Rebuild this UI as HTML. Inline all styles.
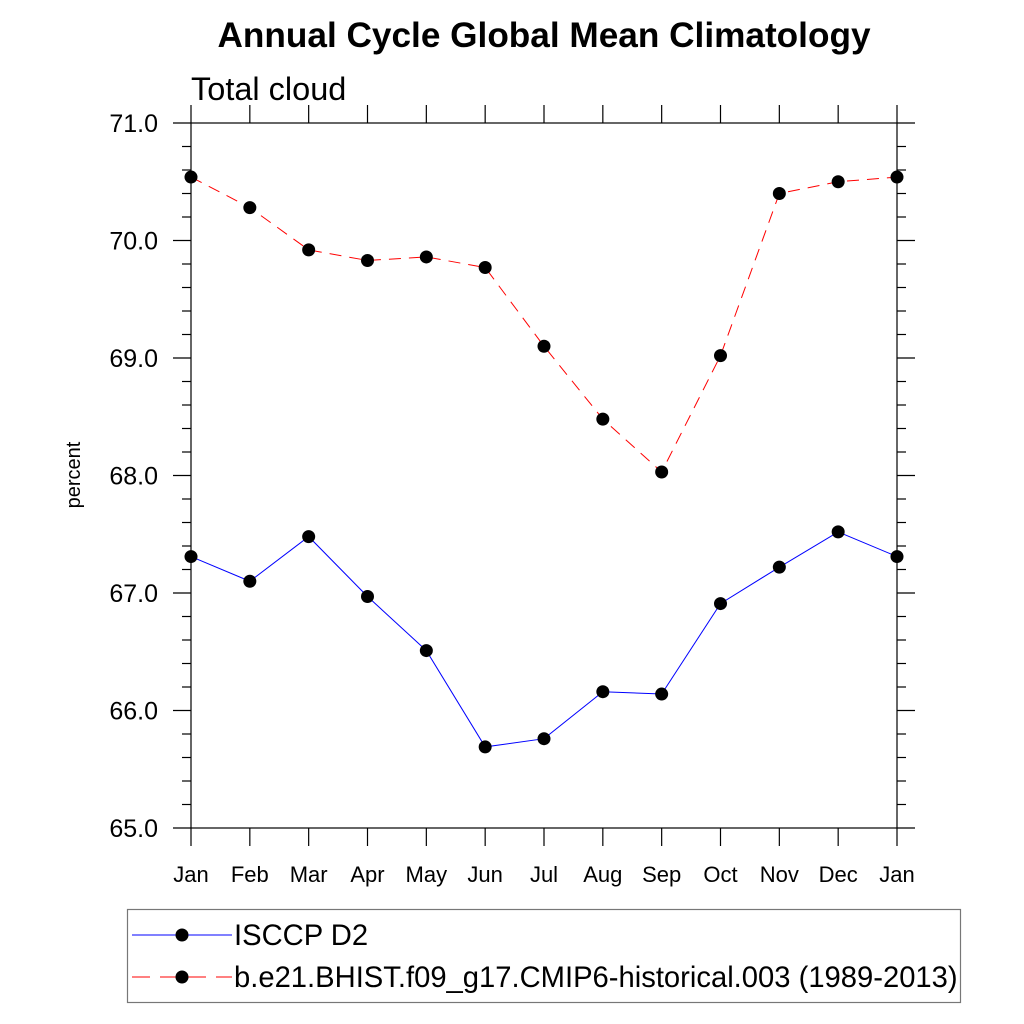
<!DOCTYPE html>
<html><head><meta charset="utf-8"><style>
html,body{margin:0;padding:0;background:#fff;}
svg{display:block;font-family:"Liberation Sans",sans-serif;}
</style></head><body>
<svg id="chart" width="1024" height="1024" viewBox="0 0 1024 1024" xmlns="http://www.w3.org/2000/svg">
<text x="544" y="47" text-anchor="middle" font-size="35.2" font-weight="bold">Annual Cycle Global Mean Climatology</text>
<text x="191" y="100" font-size="32.5">Total cloud</text>
<text transform="translate(80,475) rotate(-90)" text-anchor="middle" font-size="20">percent</text>
<rect x="191" y="123" width="706" height="705" fill="none" stroke="#000" stroke-width="1.2"/>
<g id="axes"></g>
<g id="series"></g>
<g>
<rect x="127.5" y="909.5" width="833" height="93" fill="none" stroke="#777" stroke-width="1.2"/>
<line x1="132" y1="935" x2="232" y2="935" stroke="#00f" stroke-width="1"/>
<circle cx="182" cy="935" r="6.5" fill="#000"/>
<text x="234" y="945" font-size="29.2">ISCCP D2</text>
<line x1="132" y1="977" x2="232" y2="977" stroke="#f00" stroke-width="1" stroke-dasharray="18,10"/>
<circle cx="182" cy="977" r="6.5" fill="#000"/>
<text x="234" y="987" font-size="29.2">b.e21.BHIST.f09_g17.CMIP6-historical.003 (1989-2013)</text>
</g>
</svg>
<script>
const months = ["Jan","Feb","Mar","Apr","May","Jun","Jul","Aug","Sep","Oct","Nov","Dec","Jan"];
const isccp = [67.31,67.10,67.48,66.97,66.51,65.69,65.76,66.16,66.14,66.91,67.22,67.52,67.31];
const model = [70.54,70.28,69.92,69.83,69.86,69.77,69.10,68.48,68.03,69.02,70.40,70.50,70.54];
const yTicks = [65,66,67,68,69,70,71];
const yMin = 65, yMax = 71;
const NS = "http://www.w3.org/2000/svg";
const L=191,R=897,T=123,B=828;
function xs(i){return L+(R-L)*i/(months.length-1);}
function ys(v){return B-(B-T)*(v-yMin)/(yMax-yMin);}
function mk(tag,attrs,parent){const e=document.createElementNS(NS,tag);for(const k in attrs)e.setAttribute(k,attrs[k]);parent.appendChild(e);return e;}
const ax=document.getElementById('axes');
months.forEach((m,i)=>{
  const x=xs(i);
  const t1=mk('line',{x1:x,y1:B,x2:x,y2:B+18,stroke:'#000','stroke-width':1.2},ax);
  
  
  const t2=mk('line',{x1:x,y1:T,x2:x,y2:T-18,stroke:'#000','stroke-width':1.2},ax);
  
  
  const lb=mk('text',{x:x,y:882,'text-anchor':'middle','font-size':22},ax);
  lb.textContent=m;
  
  
});
for(let k=0;k<=30;k++){
  const v=yMin+k*0.2, y=ys(v), major=k%5===0, len=major?18:9;
  const a=mk('line',{x1:L-len,y1:y,x2:L,y2:y,stroke:'#000','stroke-width':1.2},ax);
  
  
  const b=mk('line',{x1:R,y1:y,x2:R+len,y2:y,stroke:'#000','stroke-width':1.2},ax);
  
  
}
yTicks.forEach(v=>{
  const lb=mk('text',{x:158,y:ys(v)+9,'text-anchor':'end','font-size':25},ax);
  lb.textContent=v.toFixed(1);
  
  
});
const se=document.getElementById('series');
function draw(vals,color,dash,name){
  const pts=vals.map((v,i)=>xs(i)+','+ys(v)).join(' ');
  const pl=mk('polyline',{points:pts,fill:'none',stroke:color,'stroke-width':1,'stroke-dasharray':dash},se);
  
  
  vals.forEach((v,i)=>{
    const c=mk('circle',{cx:xs(i),cy:ys(v),r:6.5,fill:'#000'},se);
    
    
  });
}
draw(isccp,'#00f','none','isccp');
draw(model,'#f00','12,8','model');
</script>
</body></html>
